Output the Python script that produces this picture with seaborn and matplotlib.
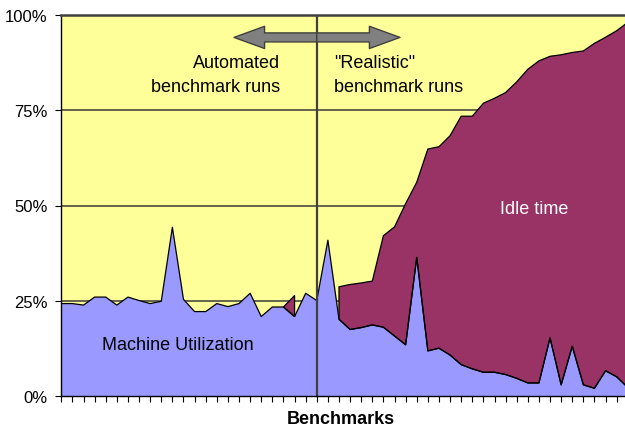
import numpy as np
import pandas as pd
import matplotlib
matplotlib.use("Agg")
import matplotlib.pyplot as plt
import seaborn as sns
from matplotlib.patches import FancyArrowPatch

# ---- data (percent of machine time per benchmark) ----
benchmarks = list(range(52))
utilization = [24.3, 24.3, 23.9, 26.0, 26.0, 23.9, 26.0, 25.1, 24.3, 24.9,
               44.3, 25.4, 22.2, 22.2, 24.3, 23.5, 24.3, 27.0, 20.9, 23.4,
               23.4, 20.9, 27.0, 25.1, 40.9, 20.2, 17.5, 18.0, 18.7, 18.1,
               15.8, 13.5, 36.4, 11.9, 12.6, 10.8, 8.3, 7.2, 6.3, 6.3,
               5.7, 4.7, 3.5, 3.5, 15.3, 3.0, 13.1, 3.0, 2.1, 6.7,
               5.1, 2.3]
idle = [np.nan] * 20 + [0.0, 5.5, np.nan, np.nan, np.nan,
        8.5, 11.8, 11.7, 11.5, 24.0, 28.6, 37.0, 19.7, 52.9, 52.8,
        57.5, 65.1, 66.2, 70.5, 71.8, 73.9, 77.7, 82.2, 84.4, 73.8,
        86.5, 77.0, 87.5, 90.4, 87.4, 90.7, 95.7]
y_ticks = [0, 25, 50, 75, 100]
y_tick_labels = ["0%", "25%", "50%", "75%", "100%"]
split_index = 23

df = pd.DataFrame({"bench": benchmarks, "util": utilization, "idle": idle})
df["total"] = df["util"] + df["idle"]

sns.set_style("ticks")
plt.rcParams["font.family"] = ["Liberation Sans", "DejaVu Sans"]
plt.rcParams["text.color"] = "black"
plt.rcParams["axes.labelcolor"] = "black"
plt.rcParams["xtick.color"] = "black"
plt.rcParams["ytick.color"] = "black"

YELLOW = "#FFFF99"
BLUE = "#9999FF"
MAROON = "#993366"
GRID = "#4a4a40"

fig = plt.figure(figsize=(6.25, 4.31), dpi=100)
ax = fig.add_axes([61.3 / 625, 1 - 397.3 / 431, (627.8 - 61.3) / 625, (397.3 - 15.7) / 431])
ax.set_facecolor(YELLOW)
ax.set_xlim(0, 51)
ax.set_ylim(0, 100)

x = df["bench"].to_numpy(dtype=float)
u = df["util"].to_numpy()
t = df["total"].to_numpy()

ax.fill_between(x, 0, u, facecolor=BLUE, edgecolor="none", zorder=2)
ax.fill_between(x, u, t, facecolor=MAROON, edgecolor="black", linewidth=0.9, zorder=3)
sns.lineplot(data=df, x="bench", y="util", color="black", linewidth=0.9, ax=ax, zorder=4)

# grid
ax.set_yticks(y_ticks)
ax.set_yticklabels(y_tick_labels)
for yv in y_ticks[1:-1]:
    ax.axhline(yv, color=GRID, linewidth=1.2, zorder=1)

# separator line
ax.axvline(split_index, color="#404040", linewidth=1.6, zorder=5)

# ticks
ax.set_xticks(benchmarks)
ax.set_xticklabels([])
ax.tick_params(axis="x", direction="out", length=4, width=0.8, color="black")
ax.tick_params(axis="y", direction="out", length=4, width=0.8, color="black",
               labelsize=12, pad=6, labelcolor="black")
ax.set_xlabel("")
ax.set_ylabel("")

for s in ["left", "bottom"]:
    ax.spines[s].set_color("black")
    ax.spines[s].set_linewidth(1.0)
ax.spines["top"].set_color("#404040")
ax.spines["top"].set_linewidth(1.8)
ax.spines["right"].set_visible(False)
for s in ax.spines.values():
    s.set_zorder(6)

# double arrow
for end in (15.55, 30.49):
    arr = FancyArrowPatch((split_index, 94.05), (end, 94.05),
                          arrowstyle="simple,head_length=22,head_width=16,tail_width=6.5",
                          mutation_scale=1, shrinkA=0, shrinkB=0,
                          facecolor="#808080", edgecolor="#404040", linewidth=1.0, zorder=7)
    ax.add_patch(arr)

# annotations
fs = 13
ax.text(19.69, 87.6, "Automated", ha="right", va="center", fontsize=fs, color="black", zorder=8)
ax.text(19.69, 81.3, "benchmark runs", ha="right", va="center", fontsize=fs, color="black", zorder=8)
ax.text(24.55, 87.6, "\"Realistic\"", ha="left", va="center", fontsize=fs, color="black", zorder=8)
ax.text(24.55, 81.3, "benchmark runs", ha="left", va="center", fontsize=fs, color="black", zorder=8)
ax.text(42.56, 49.3, "Idle time", ha="center", va="center", fontsize=fs, color="white", zorder=8)
ax.text(10.46, 13.7, "Machine Utilization", ha="center", va="center", fontsize=fs, color="black", zorder=8)

fig.text(341 / 625, 1 - 420 / 431, "Benchmarks", ha="center", va="center",
         fontsize=13, fontweight="bold", color="black")

fig.savefig("out.png", dpi=100)
